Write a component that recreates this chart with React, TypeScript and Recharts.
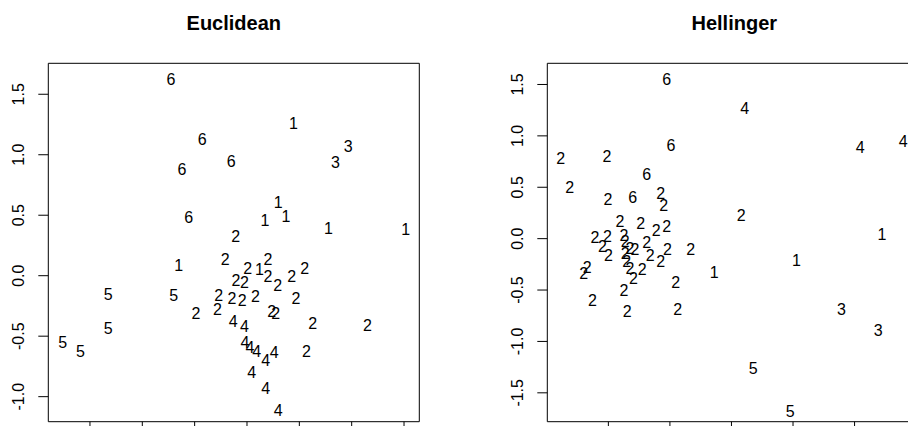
import { ReferenceArea, Scatter, ScatterChart, XAxis, YAxis } from 'recharts';

// Euclidean ordination: cluster label drawn at each site
const euclideanCluster = [
  6, 6, 6, 6, 6,
  1, 1, 1, 1, 1, 1, 1, 1,
  3, 3,
  2, 2, 2, 2, 2, 2, 2, 2, 2, 2, 2, 2, 2, 2, 2, 2, 2, 2, 2, 2, 2, 2,
  5, 5, 5, 5, 5,
  4, 4, 4, 4, 4, 4, 4, 4, 4, 4,
];
const euclideanX = [
  -0.726, -0.427, -0.15, -0.621, -0.557,
  0.443, 0.299, 0.373, 0.172, 0.777, 1.516, -0.653, 0.118,
  0.968, 0.844,
  -0.108, -0.207, 0.201, 0.006, 0.201, 0.551, 0.427, 0.293, -0.105, -0.025, -0.271,
  -0.143, -0.045, 0.08, 0.468, -0.487, -0.283, 0.236, 0.274, 0.627, 1.15, 0.567,
  -1.325, -0.701, -1.325, -1.761, -1.592,
  -0.131, -0.025, -0.019, 0.029, 0.092, 0.261, 0.178, 0.045, 0.178, 0.299,
];
const euclideanY = [
  1.623, 1.122, 0.948, 0.882, 0.485,
  1.26, 0.604, 0.493, 0.46, 0.391, 0.378, 0.085, 0.055,
  1.072, 0.934,
  0.328, 0.13, 0.138, 0.061, -0.003, 0.058, -0.003, -0.077, -0.041, -0.058, -0.16,
  -0.187, -0.201, -0.174, -0.187, -0.311, -0.278, -0.292, -0.311, -0.394, -0.408, -0.628,
  -0.154, -0.16, -0.435, -0.551, -0.623,
  -0.375, -0.416, -0.554, -0.593, -0.628, -0.637, -0.703, -0.802, -0.934, -1.116,
];

// Hellinger ordination
const hellingerCluster = [
  6, 6, 6, 6,
  4, 4, 4,
  1, 1, 1,
  3, 3,
  5, 5,
  2, 2, 2, 2, 2, 2, 2, 2, 2, 2, 2, 2, 2, 2, 2, 2, 2, 2,
  2, 2, 2, 2, 2, 2, 2, 2, 2, 2, 2, 2, 2, 2, 2, 2, 2, 2,
];
const hellingerX = [
  -0.526, -0.491, -0.688, -0.802,
  0.108, 1.046, 1.396,
  1.222, 0.528, -0.141,
  0.894, 1.192,
  0.176, 0.477,
  -1.388, -1.011, -1.314, -1.003, -0.575, -0.55, 0.079, -0.905, -0.737, -0.612, -0.526, -1.108,
  -1.008, -0.873, -1.049, -0.864, -0.688, -0.331, -0.824, -0.783, -0.52, -1.0, -0.661, -0.575,
  -0.864, -0.851, -1.171, -1.201, -0.824, -0.726, -0.797, -0.453, -0.873, -1.13, -0.846, -0.436,
];
const hellingerY = [
  1.55, 0.902, 0.626, 0.402,
  1.262, 0.889, 0.944,
  0.036, -0.208, -0.328,
  -0.688, -0.898,
  -1.262, -1.677,
  0.775, 0.798, 0.496, 0.383, 0.435, 0.321, 0.221, 0.162, 0.143, 0.078, 0.123, 0.013,
  0.019, 0.029, -0.081, -0.029, -0.039, -0.101, -0.094, -0.101, -0.11, -0.165, -0.165, -0.224,
  -0.143, -0.224, -0.276, -0.341, -0.289, -0.305, -0.389, -0.431, -0.5, -0.597, -0.71, -0.688,
];

const euclideanXTicks = [-1.5, -1, -0.5, 0, 0.5, 1, 1.5];
const euclideanYTicks = [-1, -0.5, 0, 0.5, 1, 1.5];
const hellingerXTicks = [-1, -0.5, 0, 0.5, 1, 1.5];
const hellingerYTicks = [-1.5, -1, -0.5, 0, 0.5, 1, 1.5];

const FONT = '"Liberation Sans", Arial, Helvetica, sans-serif';

function toRows(xs: number[], ys: number[], ks: number[]) {
  return xs.map((x, i) => ({ x, y: ys[i], k: ks[i] }));
}

function LabelPoint(props: any) {
  const { cx, cy, payload } = props;
  return (
    <text x={cx} y={cy} textAnchor="middle" dominantBaseline="central" fontSize={16} fill="#000" fontFamily={FONT}>
      {payload.k}
    </text>
  );
}

function RotatedTick(props: any) {
  const { x, y, payload } = props;
  return (
    <text
      x={x}
      y={y}
      transform={`rotate(-90 ${x} ${y})`}
      textAnchor="middle"
      dominantBaseline="central"
      fontSize={16}
      fill="#000"
      fontFamily={FONT}
    >
      {Number(payload.value).toFixed(1)}
    </text>
  );
}

interface PanelProps {
  title: string;
  rows: { x: number; y: number; k: number }[];
  xDomain: [number, number];
  yDomain: [number, number];
  xTicks: number[];
  yTicks: number[];
  left: number;
  width: number;
  axisWidth: number;
}

function Panel({ title, rows, xDomain, yDomain, xTicks, yTicks, left, width, axisWidth }: PanelProps) {
  const boxWidth = width - axisWidth - 34.7;
  return (
    <div style={{ position: 'absolute', left, top: 0, width, height: 426 }}>
      <div
        style={{
          position: 'absolute',
          left: axisWidth,
          width: boxWidth,
          top: 13,
          textAlign: 'center',
          fontWeight: 'bold',
          fontSize: 20,
          lineHeight: '20px',
          fontFamily: FONT,
          color: '#000',
        }}
      >
        {title}
      </div>
      <ScatterChart width={width} height={426} margin={{ top: 63.3, right: 34.7, bottom: 0, left: 0 }}>
        <XAxis
          type="number"
          dataKey="x"
          domain={xDomain}
          allowDataOverflow
          ticks={xTicks}
          interval={0}
          height={4.3}
          tickSize={10}
          axisLine={false}
          tickLine={{ stroke: '#000' }}
          tickFormatter={() => ''}
        />
        <YAxis
          type="number"
          dataKey="y"
          domain={yDomain}
          allowDataOverflow
          ticks={yTicks}
          interval={0}
          width={axisWidth}
          tickSize={10}
          tickMargin={19.5}
          axisLine={false}
          tickLine={{ stroke: '#000' }}
          tick={<RotatedTick />}
        />
        <ReferenceArea
          x1={xDomain[0]}
          x2={xDomain[1]}
          y1={yDomain[0]}
          y2={yDomain[1]}
          fill="none"
          fillOpacity={0}
          stroke="#000"
          strokeWidth={1}
          strokeOpacity={1}
        />
        <Scatter data={rows} shape={<LabelPoint />} isAnimationActive={false} />
      </ScatterChart>
    </div>
  );
}

export default function App() {
  return (
    <div
      style={{
        position: 'fixed',
        left: 0,
        top: 0,
        width: 908,
        height: 426,
        overflow: 'hidden',
        background: '#fff',
        fontFamily: FONT,
      }}
    >
      <Panel
        title="Euclidean"
        rows={toRows(euclideanX, euclideanY, euclideanCluster)}
        xDomain={[-1.898, 1.646]}
        yDomain={[-1.207, 1.756]}
        xTicks={euclideanXTicks}
        yTicks={euclideanYTicks}
        left={0}
        width={454}
        axisWidth={48.3}
      />
      <Panel
        title="Hellinger"
        rows={toRows(hellingerX, hellingerY, hellingerCluster)}
        xDomain={[-1.496, 1.542]}
        yDomain={[-1.781, 1.706]}
        xTicks={hellingerXTicks}
        yTicks={hellingerYTicks}
        left={454}
        width={502}
        axisWidth={93.3}
      />
    </div>
  );
}
